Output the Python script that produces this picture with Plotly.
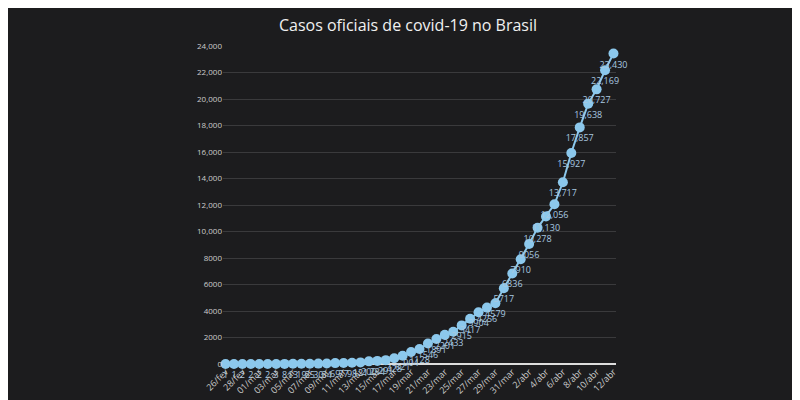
import plotly.graph_objects as go

dates = ["26/fev","27/fev","28/fev","29/fev"] + [f"{d:02d}/mar" if d < 10 else f"{d}/mar" for d in range(1, 32)] + [f"{d}/abr" for d in range(1, 13)]
cases = [1,1,1,2,2,2,2,3,8,13,19,25,30,34,69,77,98,121,200,234,291,428,621,904,1128,1546,1891,2201,2433,2915,3417,3904,4256,4579,5717,6836,7910,9056,10278,11130,12056,13717,15927,17857,19638,20727,22169,23430]
cases = cases[-47:]
tickvals = [2000,4000,6000,8000,10000,12000,14000,16000,18000,20000,22000,24000]
ticktext = ["2000","4000","6000","8000","10,000","12,000","14,000","16,000","18,000","20,000","22,000","24,000"]

labels = [f"{v:,}" if v >= 10000 else str(v) for v in cases]
fig = go.Figure(go.Scatter(
    x=list(range(len(cases))), y=cases, mode="lines+markers+text",
    text=labels, textposition="bottom center", cliponaxis=False,
    textfont=dict(size=9, color="#a9c9e0"),
    line=dict(color="#8cc8ec", width=2), marker=dict(color="#8cc8ec", size=10),
))
fig.update_layout(
    width=800, height=400, paper_bgcolor="#1c1c1e", plot_bgcolor="#1c1c1e",
    title=dict(text="Casos oficiais de covid-19 no Brasil", x=0.5, y=0.97, font=dict(size=16, color="#f0f0f0", family="Open Sans")),
    margin=dict(l=215, r=192, t=38, b=42),
    font=dict(family="Open Sans", color="#cccccc", size=8),
    showlegend=False,
)
fig.update_xaxes(tickvals=list(range(0, len(cases), 2)), ticktext=dates[0:len(cases):2], tickangle=-45,
                 showgrid=False, zeroline=False, range=[-0.3, len(cases) - 0.7], tickfont=dict(size=9))
fig.update_yaxes(tickvals=[0] + tickvals, ticktext=["0"] + ticktext, range=[0, 24000], gridcolor="#3a3a3c",
                 zeroline=True, zerolinecolor="#dddddd", zerolinewidth=2)
fig.write_html("out.html")
